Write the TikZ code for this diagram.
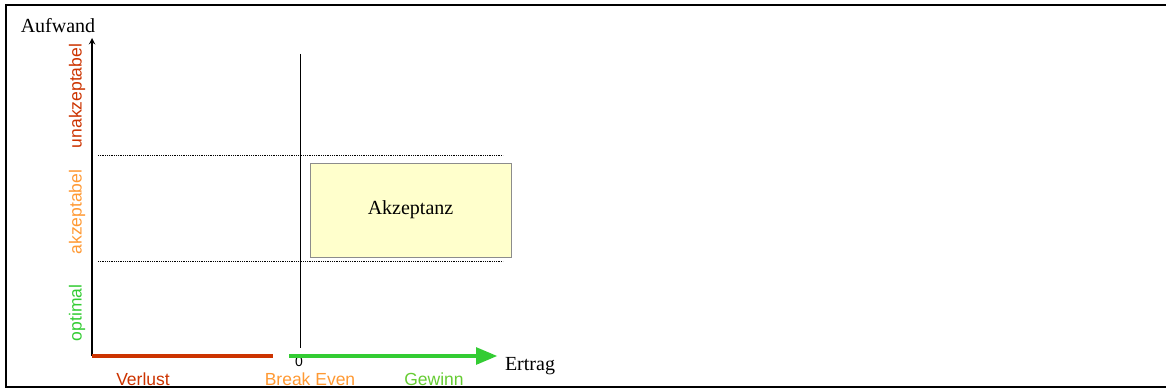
\documentclass[tikz,border=0pt]{standalone}
\usepackage{fontspec}
\setmainfont{Liberation Serif}
\setsansfont{Liberation Sans}
\usetikzlibrary{arrows}
\definecolor{verlust}{RGB}{204,51,0}
\definecolor{breakeven}{RGB}{255,153,51}
\definecolor{gewinn}{RGB}{51,204,51}
\definecolor{gewinntext}{RGB}{102,204,51}
\definecolor{akzfill}{RGB}{255,255,204}
\tikzstyle{axis} = [draw,line width=1.8pt]
\tikzstyle{limit} = [draw,densely dotted,line width=0.8pt]
\tikzstyle{zone} = [font=\sffamily\fontsize{17.5}{17.5}\selectfont,rotate=90,inner sep=0pt]
\tikzstyle{result} = [font=\sffamily\fontsize{17.5}{17.5}\selectfont,inner sep=0pt]
\tikzstyle{title} = [font=\fontsize{20}{20}\selectfont,inner sep=0pt]

\begin{document}
\begin{tikzpicture}[x=1pt,y=-1pt]
				\useasboundingbox (0,0) rectangle (1166,390);
				\draw[line width=2pt] (1166,5) -- (6,5) -- (6,387) -- (1166,387);

				\coordinate (o) at (92,356);
				\coordinate (ytop) at (92,38);
				\coordinate (vend) at (273,356);
				\coordinate (gstart) at (289,356);
				\coordinate (gend) at (497,356);
				\coordinate (bt) at (300,54);
				\coordinate (bb) at (300,348);

				\node[title] (aufwand) at (58,26) {Aufwand};
				\node[title] (ertrag) at (530,366) {Ertrag};
				\node[result] (null) at (299,362) {\fontsize{14}{14}\selectfont 0};
				\node[draw=black!45,fill=akzfill,minimum width=201pt,minimum height=94pt,inner sep=0pt,title] (akz) at (410.5,210) {Akzeptanz};

				\foreach \name/\y/\col/\text in {unakz/96/verlust/unakzeptabel, akzeptabel/212/breakeven/akzeptabel, optimal/313/gewinn/optimal}
				\node[zone,text=\col] (\name) at (77,\y) {\text};
				\foreach \name/\x/\col/\text in {verlust/143/verlust/Verlust, breakeven/310/breakeven/Break Even, gewinn/434/gewinntext/Gewinn}
				\node[result,text=\col] (\name) at (\x,379) {\text};

				\foreach \y/\name in {155/hoch, 261/tief}
				\path[limit] (98,\y) coordinate (\name a) -- (503,\y) coordinate (\name b);
				\path[draw,line width=1pt] (bt) -- (bb);
				\path[axis,-stealth] (o) -- (ytop);
				\path[draw,line width=4pt,verlust] (o) -- (vend);
				\path[draw,line width=4pt,gewinn,-triangle 45] (gstart) -- (gend);
			\end{tikzpicture}
\end{document}
